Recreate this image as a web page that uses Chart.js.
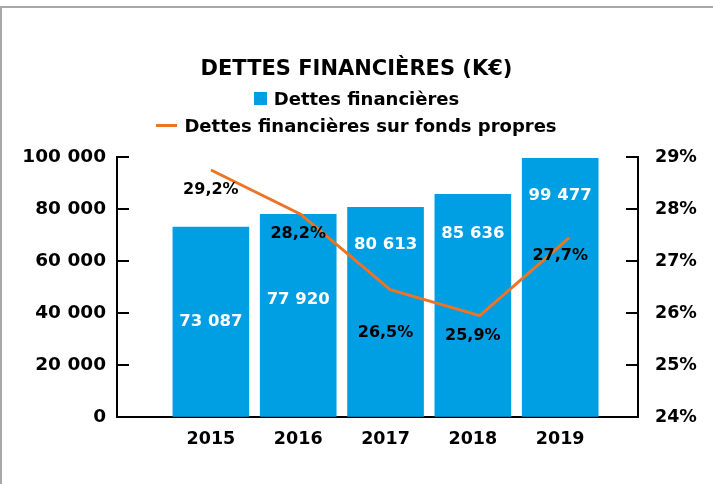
<!DOCTYPE html>
<html>
<head>
<meta charset="utf-8">
<script src="https://cdn.jsdelivr.net/npm/chart.js@4.4.1/dist/chart.umd.min.js"></script>
<style>
  html, body { margin: 0; padding: 0; background: #fff; }
  #wrap { position: relative; width: 713px; height: 484px; overflow: hidden; font-family: "DejaVu Sans", sans-serif; font-weight: bold; color: #000; }
  #frame { position: absolute; left: 0; top: 6px; width: 713px; height: 478px; box-sizing: border-box;
           border-top: 2px solid #a8a8a8; border-left: 2px solid #a8a8a8; }
  #chart { position: absolute; left: 0; top: 0; }
  .row { position: absolute; left: 0; width: 713px; display: flex; justify-content: center; align-items: center; }
  #title { top: 55px; height: 26px; font-size: 21px; }
  #leg1 { top: 86px; height: 24px; font-size: 18px; }
  #leg2 { top: 113px; height: 24px; font-size: 18px; }
  .sq { width: 13px; height: 13px; background: #009ee2; margin-right: 7px; }
  .ln { width: 21px; height: 3px; background: #ec7424; margin-right: 7px; }
</style>
</head>
<body>
<div id="wrap">
  <div id="frame"></div>
  <canvas id="chart" width="713" height="484"></canvas>
  <div class="row" id="title">DETTES FINANCIÈRES (K€)</div>
  <div class="row" id="leg1"><span class="sq"></span><span>Dettes financières</span></div>
  <div class="row" id="leg2"><span class="ln"></span><span>Dettes financières sur fonds propres</span></div>
</div>
<script>
// ─── DATA ─────────────────────────────────────────────────────────────────────

const years       = [2015, 2016, 2017, 2018, 2019];
const debts       = [73087, 77920, 80613, 85636, 99477];
const debtLabels  = ['73 087', '77 920', '80 613', '85 636', '99 477'];
const ratioPoints = [28.75, 27.9, 26.45, 25.95, 27.45];   // where the line is drawn
const ratioLabels = ['29,2%', '28,2%', '26,5%', '25,9%', '27,7%'];
const leftTicks   = [0, 20000, 40000, 60000, 80000, 100000];
const rightTicks  = [24, 25, 26, 27, 28, 29];

// label placement (value units of each axis)
const debtLabelAt  = [36500, 45300, 66400, 70600, 85300];
const ratioLabelAt = [28.37, 27.53, 25.61, 25.56, 27.10];

const BLUE   = '#009ee2';
const ORANGE = '#ec7424';
const FONT   = '"DejaVu Sans", sans-serif';

const thousands = v => String(v).replace(/\B(?=(\d{3})+(?!\d))/g, ' ');

// ─── PLUGINS ──────────────────────────────────────────────────────────────────

const innerTicks = {
  id: 'innerTicks',
  afterDraw(chart) {
    const { ctx, chartArea } = chart;
    const y = chart.scales.y, y2 = chart.scales.y2;
    ctx.save();
    ctx.strokeStyle = '#000';
    ctx.lineWidth = 2;
    ctx.beginPath();
    for (const v of leftTicks) {
      const py = Math.round(y.getPixelForValue(v));
      ctx.moveTo(chartArea.left, py);
      ctx.lineTo(chartArea.left + 12, py);
    }
    for (const v of rightTicks) {
      const py = Math.round(y2.getPixelForValue(v));
      ctx.moveTo(chartArea.right, py);
      ctx.lineTo(chartArea.right - 12, py);
    }
    ctx.stroke();
    ctx.restore();
  }
};

const valueLabels = {
  id: 'valueLabels',
  afterDatasetsDraw(chart) {
    const { ctx } = chart;
    const bars = chart.getDatasetMeta(1).data;
    ctx.save();
    ctx.textAlign = 'center';
    ctx.textBaseline = 'middle';
    bars.forEach((b, i) => {
      ctx.font = 'bold 16.5px ' + FONT;
      ctx.fillStyle = '#fff';
      ctx.fillText(debtLabels[i], b.x, chart.scales.y.getPixelForValue(debtLabelAt[i]));
      ctx.font = 'bold 16px ' + FONT;
      ctx.fillStyle = '#000';
      ctx.fillText(ratioLabels[i], b.x, chart.scales.y2.getPixelForValue(ratioLabelAt[i]));
    });
    ctx.restore();
  }
};

// ─── CHART ────────────────────────────────────────────────────────────────────

Chart.defaults.font.family = FONT;
Chart.defaults.font.weight = 'bold';
Chart.defaults.color = '#000';

new Chart(document.getElementById('chart'), {
  type: 'bar',
  data: {
    datasets: [
      {
        type: 'line',
        label: 'Dettes financières sur fonds propres',
        data: years.map((x, i) => ({ x, y: ratioPoints[i] })),
        xAxisID: 'x2',
        yAxisID: 'y2',
        borderColor: ORANGE,
        borderWidth: 3,
        pointRadius: 0,
        tension: 0,
        order: 0,
      },
      {
        type: 'bar',
        label: 'Dettes financières',
        data: years.map((x, i) => ({ x, y: debts[i] })),
        xAxisID: 'x',
        yAxisID: 'y',
        backgroundColor: BLUE,
        barThickness: 76,
        grouped: false,
        order: 1,
      },
    ]
  },
  options: {
    responsive: false,
    animation: false,
    layout: { padding: { top: 157, left: 0, right: 0, bottom: 0 } },
    plugins: {
      legend: { display: false },
      tooltip: { enabled: false },
      title: { display: false },
    },
    scales: {
      x: {
        type: 'linear',
        offset: false,
        min: 2013.925,
        max: 2019.891,
        afterBuildTicks: s => { s.ticks = years.map(v => ({ value: v })); },
        afterFit: s => { s.height = 67; },
        ticks: { callback: v => String(v), padding: 12, font: { size: 17.5 }, maxRotation: 0, autoSkip: false },
        grid: { offset: false, drawOnChartArea: false, drawTicks: false },
        border: { display: true, color: '#000', width: 2 },
      },
      x2: {
        type: 'linear',
        display: false,
        offset: false,
        min: 2013.951,
        max: 2019.766,
      },
      y: {
        position: 'left',
        min: 0,
        max: 100000,
        afterBuildTicks: s => { s.ticks = leftTicks.map(v => ({ value: v })); },
        afterFit: s => { s.width = 117; },
        ticks: { callback: v => thousands(v), padding: 11, font: { size: 18.5 } },
        grid: { drawOnChartArea: false, drawTicks: false },
        border: { display: true, color: '#000', width: 2 },
      },
      y2: {
        position: 'right',
        min: 24,
        max: 29,
        afterBuildTicks: s => { s.ticks = rightTicks.map(v => ({ value: v })); },
        afterFit: s => { s.width = 75; },
        ticks: { callback: v => v + '%', padding: 17, font: { size: 17.5 } },
        grid: { drawOnChartArea: false, drawTicks: false },
        border: { display: true, color: '#000', width: 2 },
      },
    }
  },
  plugins: [innerTicks, valueLabels]
});
</script>
</body>
</html>
